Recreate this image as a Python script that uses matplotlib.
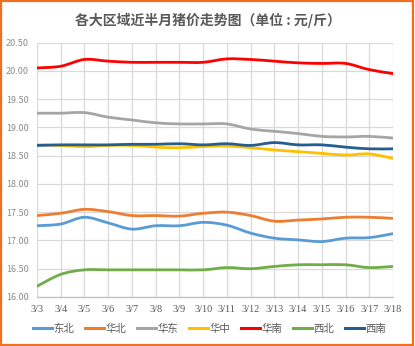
import matplotlib
matplotlib.use("Agg")
import matplotlib.pyplot as plt
from matplotlib.path import Path
from matplotlib.patches import PathPatch, Rectangle
from matplotlib.lines import Line2D
import numpy as np

plt.rcParams['font.family'] = ['Noto Sans CJK SC', 'DejaVu Sans']

dates = ["3/3", "3/4", "3/5", "3/6", "3/7", "3/8", "3/9", "3/10",
         "3/11", "3/12", "3/13", "3/14", "3/15", "3/16", "3/17", "3/18"]

dongbei = [17.26, 17.29, 17.41, 17.31, 17.20, 17.26, 17.26, 17.32,
           17.27, 17.13, 17.04, 17.01, 16.98, 17.04, 17.05, 17.12]
huabei = [17.44, 17.48, 17.55, 17.51, 17.44, 17.44, 17.43, 17.48,
          17.50, 17.44, 17.34, 17.36, 17.38, 17.41, 17.41, 17.39]
huadong = [19.25, 19.25, 19.26, 19.18, 19.13, 19.08, 19.06, 19.06,
           19.06, 18.97, 18.93, 18.89, 18.84, 18.83, 18.84, 18.81]
huazhong = [18.69, 18.68, 18.66, 18.68, 18.68, 18.65, 18.64, 18.66,
            18.67, 18.64, 18.60, 18.57, 18.54, 18.51, 18.53, 18.45]
huanan = [20.05, 20.08, 20.20, 20.17, 20.15, 20.15, 20.15, 20.15,
          20.21, 20.20, 20.17, 20.14, 20.13, 20.13, 20.02, 19.95]
xibei = [16.19, 16.40, 16.48, 16.48, 16.48, 16.48, 16.48, 16.48,
         16.52, 16.50, 16.54, 16.57, 16.57, 16.57, 16.52, 16.54]
xinan = [18.68, 18.69, 18.69, 18.69, 18.70, 18.70, 18.71, 18.69,
         18.71, 18.68, 18.73, 18.69, 18.69, 18.65, 18.62, 18.62]

series_names = ["东北", "华北", "华东", "华中", "华南", "西北", "西南"]
series_values = [dongbei, huabei, huadong, huazhong, huanan, xibei, xinan]
series_colors = ["#5B9BD5", "#ED7D31", "#A5A5A5", "#FFC000", "#FF0000",
                 "#70AD47", "#255E91"]

y_ticks = [16.0, 16.5, 17.0, 17.5, 18.0, 18.5, 19.0, 19.5, 20.0, 20.5]


def smooth_path(xs, ys, tension=1.0 / 6):
    """Cubic Bezier path through the points (Catmull-Rom style smoothing)."""
    xs = np.asarray(xs, float)
    ys = np.asarray(ys, float)
    n = len(xs)
    verts = [(xs[0], ys[0])]
    codes = [Path.MOVETO]
    for i in range(n - 1):
        i0 = max(i - 1, 0)
        i3 = min(i + 2, n - 1)
        c1 = (xs[i] + (xs[i + 1] - xs[i0]) * tension,
              ys[i] + (ys[i + 1] - ys[i0]) * tension)
        c2 = (xs[i + 1] - (xs[i3] - xs[i]) * tension,
              ys[i + 1] - (ys[i3] - ys[i]) * tension)
        verts += [c1, c2, (xs[i + 1], ys[i + 1])]
        codes += [Path.CURVE4] * 3
    return Path(verts, codes)


fig = plt.figure(figsize=(4.15, 3.46), dpi=100)
ax = fig.add_axes([37 / 415, 1 - 297 / 346, (393 - 37) / 415, (297 - 42.5) / 346])

x = np.arange(len(dates))
for vals, color in zip(series_values, series_colors):
    ax.add_patch(PathPatch(smooth_path(x, vals), fill=False, edgecolor=color,
                           linewidth=2.0, capstyle='round', joinstyle='round',
                           zorder=3))

ax.set_xlim(0, len(dates) - 1)
ax.set_ylim(16.0, 20.5)
ax.set_xticks(x)
ax.set_xticklabels(dates, fontsize=7.5, color="#595959",
                   family=['Liberation Serif', 'DejaVu Serif'])
ax.set_yticks(y_ticks)
ax.set_yticklabels([f"{v:.2f}" for v in y_ticks], fontsize=6.5, color="#8C8C8C")
ax.tick_params(axis='both', length=0)
ax.tick_params(axis='x', pad=6)
ax.tick_params(axis='y', pad=6)
ax.grid(True, color="#D9D9D9", linewidth=0.9, zorder=0)
ax.set_axisbelow(True)
for side in ["top", "right", "left"]:
    ax.spines[side].set_visible(False)
ax.spines["bottom"].set_color("#BFBFBF")
ax.spines["bottom"].set_linewidth(0.9)

fig.text(0.5, 1 - 20 / 346, "各大区域近半月猪价走势图（单位 : 元/斤）",
         ha="center", va="center", fontsize=10, color="#595959",
         fontweight="bold")

handles = [Line2D([0], [0], color=c, linewidth=2.2) for c in series_colors]
fig.legend(handles, series_names, loc="center", ncol=7,
           bbox_to_anchor=(209.5 / 415, 1 - 329 / 346), frameon=False,
           fontsize=7.5, handlelength=1.8, handletextpad=0.15,
           columnspacing=1.05, labelcolor="#595959",
           borderpad=0, borderaxespad=0)

fig.patches.append(Rectangle((0.003, 0.003), 0.992, 0.994,
                             transform=fig.transFigure, fill=False,
                             edgecolor="#F07020", linewidth=1.6))

fig.savefig("out.png", dpi=100)
